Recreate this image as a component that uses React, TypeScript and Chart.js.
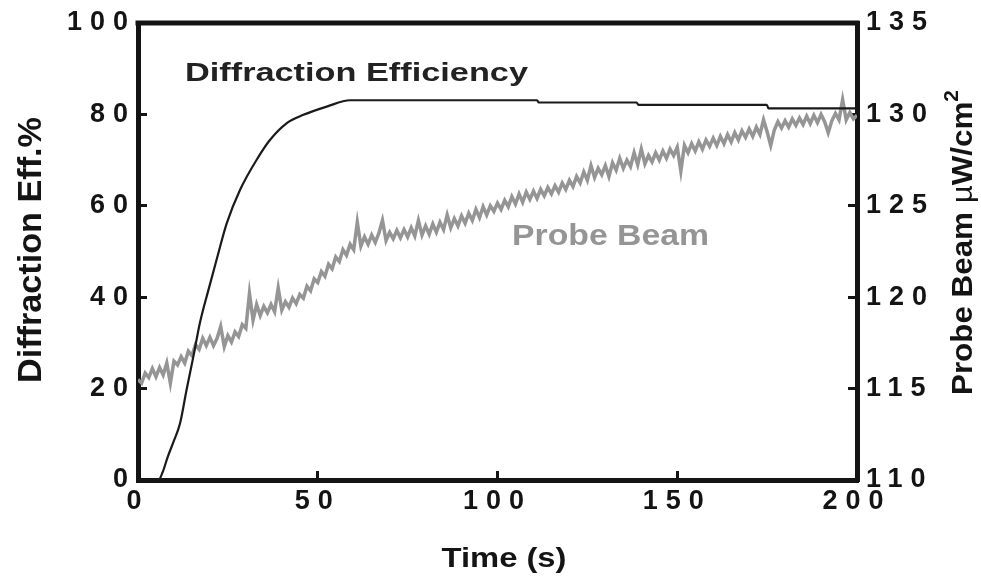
import React, { useEffect, useRef } from 'react';
import { Chart, registerables } from 'chart.js';

Chart.register(...registerables);

const FONT = "'Liberation Sans', Arial, Helvetica, sans-serif";

// Diffraction efficiency (%) vs time (s)
const deTime = [0, 5.7, 6.9, 8.2, 10.0, 11.7, 13.5, 15.4, 17.2, 19.6, 22.1, 24.7, 28.4, 33.5, 36.7, 41.4, 46.0, 52.5, 59.0, 111.0, 111.5, 138.7, 139.2, 174.9, 175.4, 200];
const deValue = [0, 0, 1.8, 4.9, 8.6, 12.4, 19.7, 27.0, 34.3, 41.6, 48.9, 56.2, 63.5, 70.7, 74.4, 78.1, 79.9, 81.7, 83.1, 83.1, 82.6, 82.6, 82.1, 82.1, 81.3, 81.3];

// Probe beam (µW/cm²) vs time (s), sampled every second
const probeTime = [
  0, 1, 2, 3, 4, 5, 6, 7, 8, 9, 10, 11, 12, 13, 14, 15, 16, 17, 18, 19,
  20, 21, 22, 23, 24, 25, 26, 27, 28, 29, 30, 31, 32, 33, 34, 35, 36, 37, 38, 39,
  40, 41, 42, 43, 44, 45, 46, 47, 48, 49, 50, 51, 52, 53, 54, 55, 56, 57, 58, 59,
  60, 61, 62, 63, 64, 65, 66, 67, 68, 69, 70, 71, 72, 73, 74, 75, 76, 77, 78, 79,
  80, 81, 82, 83, 84, 85, 86, 87, 88, 89, 90, 91, 92, 93, 94, 95, 96, 97, 98, 99,
  100, 101, 102, 103, 104, 105, 106, 107, 108, 109, 110, 111, 112, 113, 114, 115, 116, 117, 118, 119,
  120, 121, 122, 123, 124, 125, 126, 127, 128, 129, 130, 131, 132, 133, 134, 135, 136, 137, 138, 139,
  140, 141, 142, 143, 144, 145, 146, 147, 148, 149, 150, 151, 152, 153, 154, 155, 156, 157, 158, 159,
  160, 161, 162, 163, 164, 165, 166, 167, 168, 169, 170, 171, 172, 173, 174, 175, 176, 177, 178, 179,
  180, 181, 182, 183, 184, 185, 186, 187, 188, 189, 190, 191, 192, 193, 194, 195, 196, 197, 198, 199,
  200,
];
const probeValue = [
  115.5, 115.3, 115.85, 115.6, 116.1, 115.65, 116.15, 115.75, 116.4, 115.3,
  116.5, 116.3, 116.75, 116.4, 117.05, 116.8, 117.4, 117.15, 117.75, 117.35,
  117.8, 117.35, 117.75, 118.4, 117.3, 117.9, 117.55, 118.1, 117.85, 118.5,
  118.3, 120.2, 118.75, 119.6, 119.0, 119.5, 119.15, 119.6, 119.2, 120.5,
  119.3, 119.75, 119.45, 119.95, 119.65, 120.15, 119.95, 120.6, 120.35, 121.0,
  120.8, 121.4, 121.15, 121.8, 121.55, 122.2, 121.95, 122.6, 122.3, 122.9,
  122.6, 124.1, 122.8, 123.3, 122.9, 123.4, 123.0, 123.5, 124.2, 123.1,
  123.55, 123.2, 123.65, 123.25, 123.7, 123.3, 123.8, 123.35, 124.2, 123.4,
  123.9, 123.45, 124.0, 123.55, 124.1, 123.7, 124.5, 123.8, 124.3, 123.9,
  124.45, 124.05, 124.6, 124.2, 124.8, 124.35, 124.95, 124.5, 125.0, 124.7,
  125.15, 124.8, 125.3, 124.95, 125.5, 125.1, 125.65, 125.2, 125.75, 125.35,
  125.8, 125.4, 125.9, 125.55, 126.0, 125.65, 126.1, 125.75, 126.25, 125.9,
  126.4, 126.05, 126.6, 126.25, 126.85, 126.4, 127.2, 126.55, 127.05, 126.7,
  127.2, 126.6, 127.35, 126.95, 127.6, 127.05, 127.5, 127.15, 127.9, 127.25,
  128.1, 127.3, 127.75, 127.4, 127.9, 127.5, 128.0, 127.6, 128.1, 127.75,
  128.2, 126.9, 128.3, 127.9, 128.4, 128.0, 128.5, 128.1, 128.6, 128.25,
  128.7, 128.3, 128.8, 128.4, 128.9, 128.5, 129.0, 128.6, 129.1, 128.75,
  129.2, 128.8, 129.3, 128.9, 129.7, 129.05, 128.3, 129.15, 129.6, 129.25,
  129.65, 129.3, 129.75, 129.4, 129.8, 129.45, 129.9, 129.5, 129.95, 129.55,
  130.0, 129.6, 129.0, 129.65, 130.05, 129.7, 130.8, 129.7, 130.1, 129.75,
  129.95,
];

const xRange = [0, 200];
const yLeftRange = [0, 100];
const yRightRange = [110, 135];
const xStep = 50;
const yLeftStep = 20;
const yRightStep = 5;

const leftTitle = 'Diffraction Eff.%';
const bottomTitle = 'Time (s)';
const rightTitleParts = ['Probe Beam ', 'µ', 'W/cm', '2'];
const deLabel = 'Diffraction Efficiency';
const probeLabel = 'Probe Beam';

const INK = '#141414';
const GRAY = '#959595';

function drawFitted(
  ctx: CanvasRenderingContext2D,
  text: string,
  x: number,
  y: number,
  font: string,
  color: string,
  width: number,
  align: CanvasTextAlign,
  rotate: boolean
) {
  ctx.save();
  ctx.translate(x, y);
  if (rotate) ctx.rotate(-Math.PI / 2);
  ctx.font = font;
  const w = ctx.measureText(text).width;
  ctx.scale(width / w, 1);
  ctx.textAlign = align;
  ctx.textBaseline = 'alphabetic';
  ctx.fillStyle = color;
  ctx.fillText(text, 0, 0);
  ctx.restore();
}

const textPlugin = {
  id: 'customText',
  beforeDraw(chart: any) {
    const ctx = chart.ctx;
    ctx.letterSpacing = '0px';
    ctx.save();
    ctx.fillStyle = '#ffffff';
    ctx.fillRect(0, 0, chart.width, chart.height);
    ctx.restore();
  },
  afterDatasetsDraw(chart: any) {
    const ctx = chart.ctx;
    const a = chart.chartArea;
    // top frame line
    ctx.save();
    ctx.strokeStyle = INK;
    ctx.lineWidth = 5;
    ctx.beginPath();
    ctx.moveTo(a.left - 2.5, a.top);
    ctx.lineTo(a.right + 2.5, a.top);
    ctx.stroke();
    ctx.restore();
    ctx.letterSpacing = '8px';
  },
  afterDraw(chart: any) {
    const ctx = chart.ctx;
    ctx.letterSpacing = '0px';
    // left axis title
    drawFitted(ctx, leftTitle, 41, 250, `bold 34px ${FONT}`, INK, 266, 'center', true);
    // bottom axis title
    drawFitted(ctx, bottomTitle, 504, 567, `bold 28px ${FONT}`, INK, 125, 'center', false);
    // series annotations
    drawFitted(ctx, deLabel, 185, 81, `bold 25px ${FONT}`, '#222222', 343, 'left', false);
    drawFitted(ctx, probeLabel, 512, 245, `bold 29px ${FONT}`, GRAY, 197, 'left', false);
    // right axis title, rotated, in pieces
    ctx.save();
    ctx.translate(972, 395);
    ctx.rotate(-Math.PI / 2);
    const fonts = [`bold 30px ${FONT}`, `30px ${FONT}`, `bold 30px ${FONT}`, `bold 20px ${FONT}`];
    const offsets = [0, 0, 0, -14];
    let total = 0;
    const widths: number[] = [];
    rightTitleParts.forEach((p, i) => {
      ctx.font = fonts[i];
      const w = ctx.measureText(p).width;
      widths.push(w);
      total += w;
    });
    ctx.scale(305 / total, 1);
    ctx.fillStyle = INK;
    ctx.textAlign = 'left';
    ctx.textBaseline = 'alphabetic';
    let pos = 0;
    rightTitleParts.forEach((p, i) => {
      ctx.font = fonts[i];
      ctx.fillText(p, pos, offsets[i]);
      pos += widths[i];
    });
    ctx.restore();
  },
};

const tickFont = { family: FONT, size: 27, weight: 'bold' as const };

export default function App() {
  const ref = useRef<HTMLCanvasElement | null>(null);

  useEffect(() => {
    if (!ref.current) return;
    const chart = new Chart(ref.current, {
      type: 'line',
      data: {
        datasets: [
          {
            label: deLabel,
            data: deTime.map((t, i) => ({ x: t, y: deValue[i] })),
            yAxisID: 'y',
            borderColor: '#1a1a1a',
            borderWidth: 2.2,
            pointRadius: 0,
            cubicInterpolationMode: 'monotone',
            fill: false,
          },
          {
            label: probeLabel,
            data: probeTime.map((t, i) => ({ x: t, y: probeValue[i] })),
            yAxisID: 'y2',
            borderColor: GRAY,
            borderWidth: 3.5,
            pointRadius: 0,
            tension: 0,
            fill: false,
          },
        ],
      },
      options: {
        animation: false,
        responsive: true,
        maintainAspectRatio: false,
        parsing: false as any,
        layout: { padding: { top: 23, left: 0, right: 0, bottom: 0 } },
        plugins: {
          legend: { display: false },
          tooltip: { enabled: false },
          title: { display: false },
        },
        scales: {
          x: {
            type: 'linear',
            position: 'bottom',
            min: xRange[0],
            max: xRange[1],
            afterFit: (s: any) => { s.height = 98; s.paddingLeft = 0; s.paddingRight = 0; },
            ticks: { stepSize: xStep, font: tickFont, color: INK, padding: 14, z: 1, maxRotation: 0, autoSkip: false },
            grid: { drawOnChartArea: false, drawTicks: true, tickLength: -9, lineWidth: 3, color: INK },
            border: { display: true, width: 5, color: INK },
            title: { display: false },
          },
          y: {
            type: 'linear',
            position: 'left',
            min: yLeftRange[0],
            max: yLeftRange[1],
            afterFit: (s: any) => { s.width = 138; s.paddingTop = 0; s.paddingBottom = 0; },
            ticks: { stepSize: yLeftStep, font: tickFont, color: INK, padding: 11, z: 1 },
            grid: { drawOnChartArea: false, drawTicks: true, tickLength: -9, lineWidth: 3, color: INK },
            border: { display: true, width: 5, color: INK },
            title: { display: false },
          },
          y2: {
            type: 'linear',
            position: 'right',
            min: yRightRange[0],
            max: yRightRange[1],
            afterFit: (s: any) => { s.width = 124; s.paddingTop = 0; s.paddingBottom = 0; },
            ticks: { stepSize: yRightStep, font: tickFont, color: INK, padding: 18, z: 1 },
            grid: { drawOnChartArea: false, drawTicks: true, tickLength: -9, lineWidth: 3, color: INK },
            border: { display: true, width: 5, color: INK },
            title: { display: false },
          },
        },
      },
      plugins: [textPlugin],
    });
    return () => chart.destroy();
  }, []);

  return (
    <div style={{ position: 'fixed', left: 0, top: 0, width: 981, height: 578, background: '#fff' }}>
      <canvas ref={ref} />
    </div>
  );
}
